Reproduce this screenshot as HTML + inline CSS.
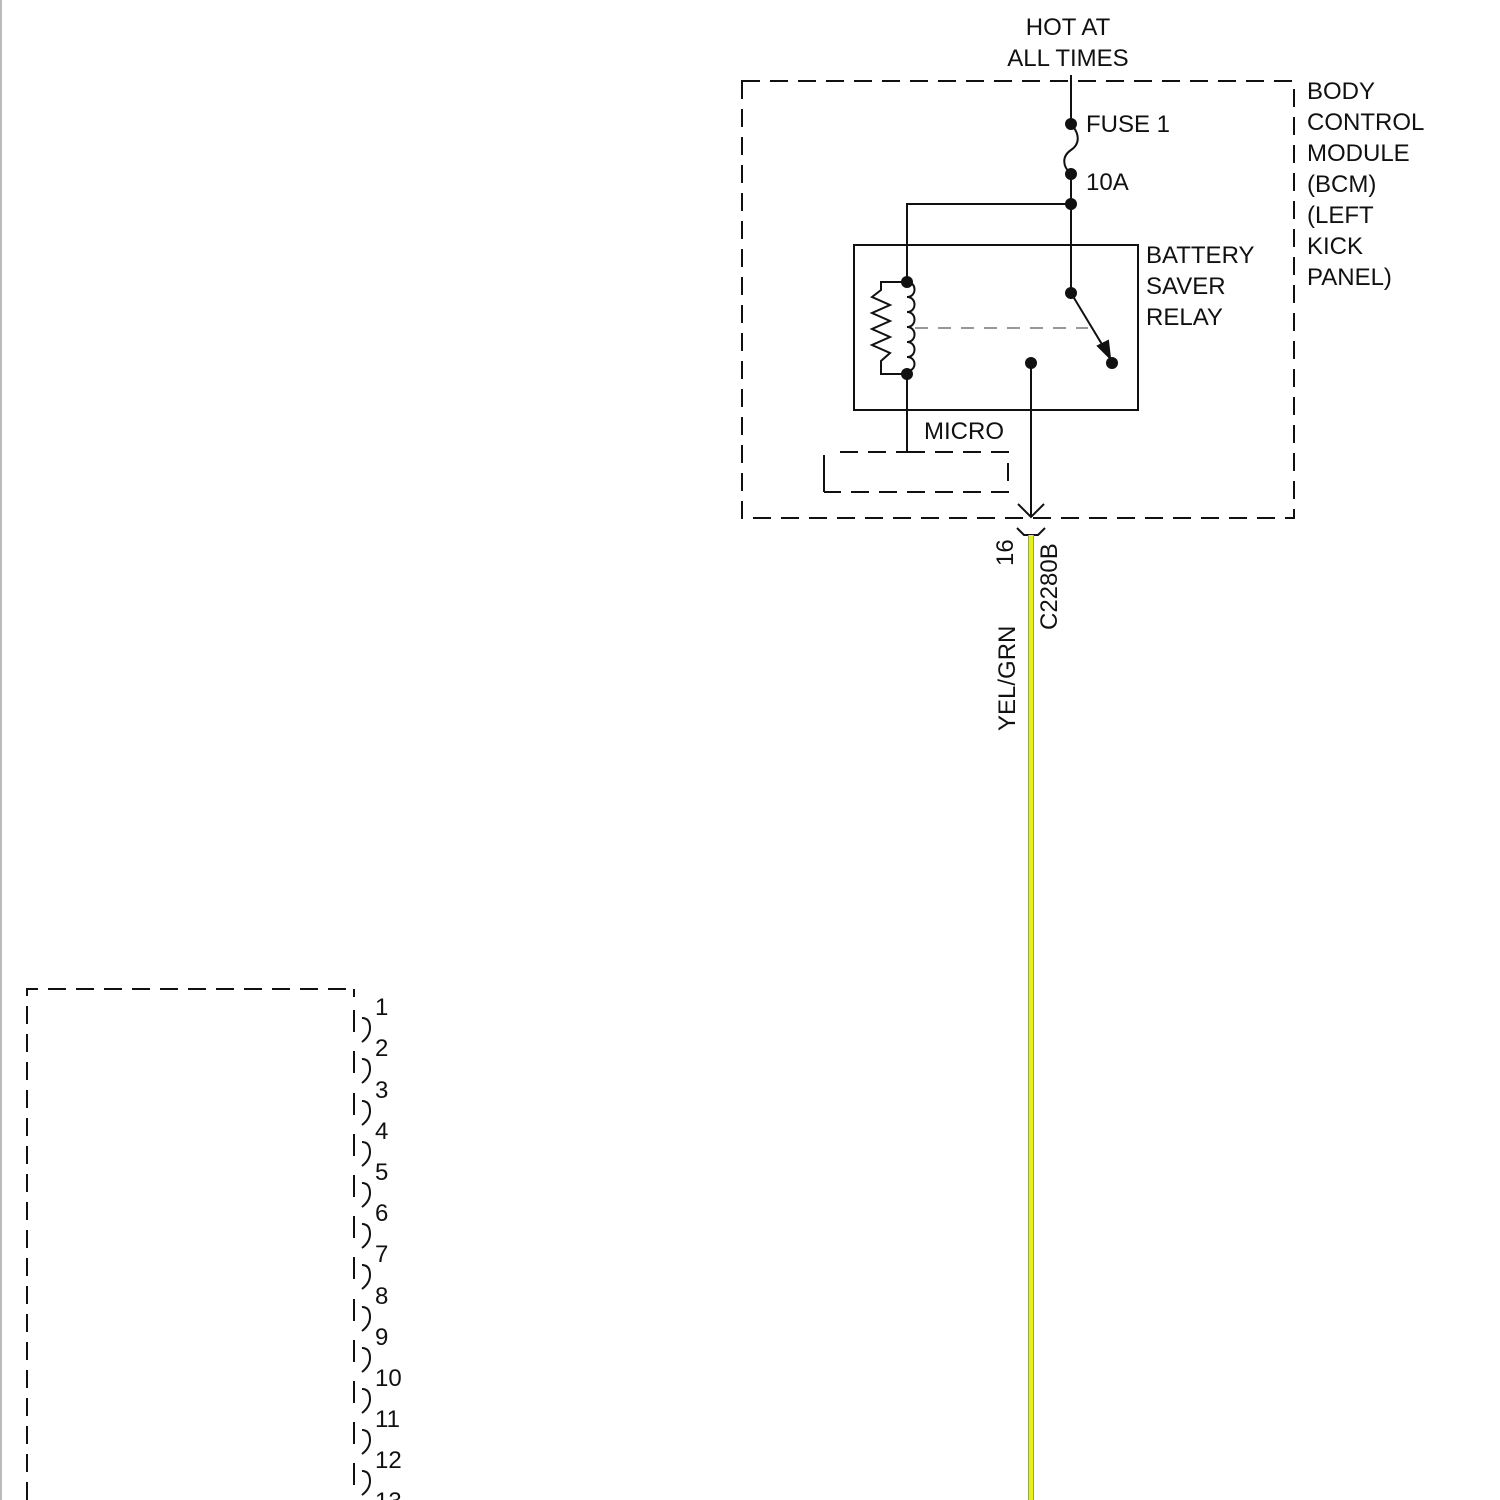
<!DOCTYPE html>
<html><head><style>
html,body{margin:0;padding:0;background:#fff}
svg{display:block}
text{font-family:"Liberation Sans",Arial,sans-serif;font-size:24px;fill:#111}
</style></head><body>
<svg width="1500" height="1500" viewBox="0 0 1500 1500" xmlns="http://www.w3.org/2000/svg">
<line x1="1" y1="0" x2="1" y2="1500" stroke="#bbb" stroke-width="2"/>
<g stroke="#111" stroke-width="2" fill="none">
<rect x="742" y="81" width="552" height="437" stroke-dasharray="18,10"/>
<line x1="1071" y1="75" x2="1071" y2="124"/>
<path d="M1071,124 C1080,134 1080,144 1071,150 C1062,156 1062,166 1071,174"/>
<line x1="1071" y1="174" x2="1071" y2="293"/>
<polyline points="1071,204 907,204 907,282"/>
<rect x="854" y="245" width="284" height="165"/>
<path d="M907,282 c10,0 10,15 0,15 c10,0 10,15 0,15 c10,0 10,15 0,15 c10,0 10,15 0,15 c10,0 10,15 0,15 c10,0 10,14 0,14"/>
<polyline points="907,282 881,282 881,290 872,297 890,305 872,313 890,321 872,329 890,337 872,345 890,353 881,361 881,374 907,374"/>
<line x1="915" y1="328" x2="1088" y2="328" stroke="#777" stroke-width="1.5" stroke-dasharray="13,10"/>
<line x1="1071" y1="293" x2="1106" y2="351"/>
<polygon points="1110,358 1098,346 1108,341" fill="#111"/>
<line x1="907" y1="374" x2="907" y2="452"/>
<polyline points="907,452 1008,452 1008,492 824,492" stroke-dasharray="18,10"/>
<line x1="824" y1="455" x2="824" y2="492"/>
<line x1="840" y1="452" x2="907" y2="452" stroke-dasharray="18,10"/>
<line x1="1031" y1="363" x2="1031" y2="517"/>
<polyline points="1018,504 1031,517 1044,504"/>
<polyline points="1017,528 1024,535 1038,535 1045,528"/>
</g>
<g fill="#111">
<circle cx="1071" cy="124" r="6"/><circle cx="1071" cy="174" r="6"/><circle cx="1071" cy="204" r="6"/>
<circle cx="907" cy="282" r="6"/><circle cx="907" cy="374" r="6"/><circle cx="1071" cy="293" r="6"/>
<circle cx="1112" cy="363" r="6"/><circle cx="1031" cy="363" r="6"/>
</g>
<rect x="1028" y="535" width="6" height="965" fill="#9aa838"/>
<rect x="1029" y="535" width="4" height="965" fill="#e6f020"/>
<text x="1068" y="35" text-anchor="middle">HOT AT</text>
<text x="1068" y="66" text-anchor="middle">ALL TIMES</text>
<text x="1086" y="132">FUSE 1</text>
<text x="1086" y="190">10A</text>
<text x="1146" y="263">BATTERY</text>
<text x="1146" y="294">SAVER</text>
<text x="1146" y="325">RELAY</text>
<text x="924" y="439">MICRO</text>
<text x="1307" y="99">BODY</text>
<text x="1307" y="130">CONTROL</text>
<text x="1307" y="161">MODULE</text>
<text x="1307" y="192">(BCM)</text>
<text x="1307" y="223">(LEFT</text>
<text x="1307" y="254">KICK</text>
<text x="1307" y="285">PANEL)</text>
<text transform="translate(1013,566) rotate(-90)">16</text>
<text transform="translate(1057,630) rotate(-90)">C2280B</text>
<text transform="translate(1015,731) rotate(-90)">YEL/GRN</text>
<g stroke="#111" stroke-width="2" fill="none">
<polyline points="27,1500 27,989 354,989" stroke-dasharray="18,10"/>
<path d="M354,989 v8"/>
<path d="M354,1010 v22 M362,1018 q8,0 8,10 q0,8 -8,14"/>
<path d="M354,1051 v22 M362,1059 q8,0 8,10 q0,8 -8,14"/>
<path d="M354,1093 v22 M362,1101 q8,0 8,10 q0,8 -8,14"/>
<path d="M354,1134 v22 M362,1142 q8,0 8,10 q0,8 -8,14"/>
<path d="M354,1175 v22 M362,1183 q8,0 8,10 q0,8 -8,14"/>
<path d="M354,1216 v22 M362,1224 q8,0 8,10 q0,8 -8,14"/>
<path d="M354,1257 v22 M362,1265 q8,0 8,10 q0,8 -8,14"/>
<path d="M354,1299 v22 M362,1307 q8,0 8,10 q0,8 -8,14"/>
<path d="M354,1340 v22 M362,1348 q8,0 8,10 q0,8 -8,14"/>
<path d="M354,1381 v22 M362,1389 q8,0 8,10 q0,8 -8,14"/>
<path d="M354,1422 v22 M362,1430 q8,0 8,10 q0,8 -8,14"/>
<path d="M354,1463 v22 M362,1471 q8,0 8,10 q0,8 -8,14"/>
</g>
<g>
<text x="375" y="1015">1</text><text x="375" y="1056">2</text><text x="375" y="1098">3</text>
<text x="375" y="1139">4</text><text x="375" y="1180">5</text><text x="375" y="1221">6</text>
<text x="375" y="1262">7</text><text x="375" y="1304">8</text><text x="375" y="1345">9</text>
<text x="375" y="1386">10</text><text x="375" y="1427">11</text><text x="375" y="1468">12</text>
<text x="375" y="1509">13</text>
</g>
</svg>
</body></html>
